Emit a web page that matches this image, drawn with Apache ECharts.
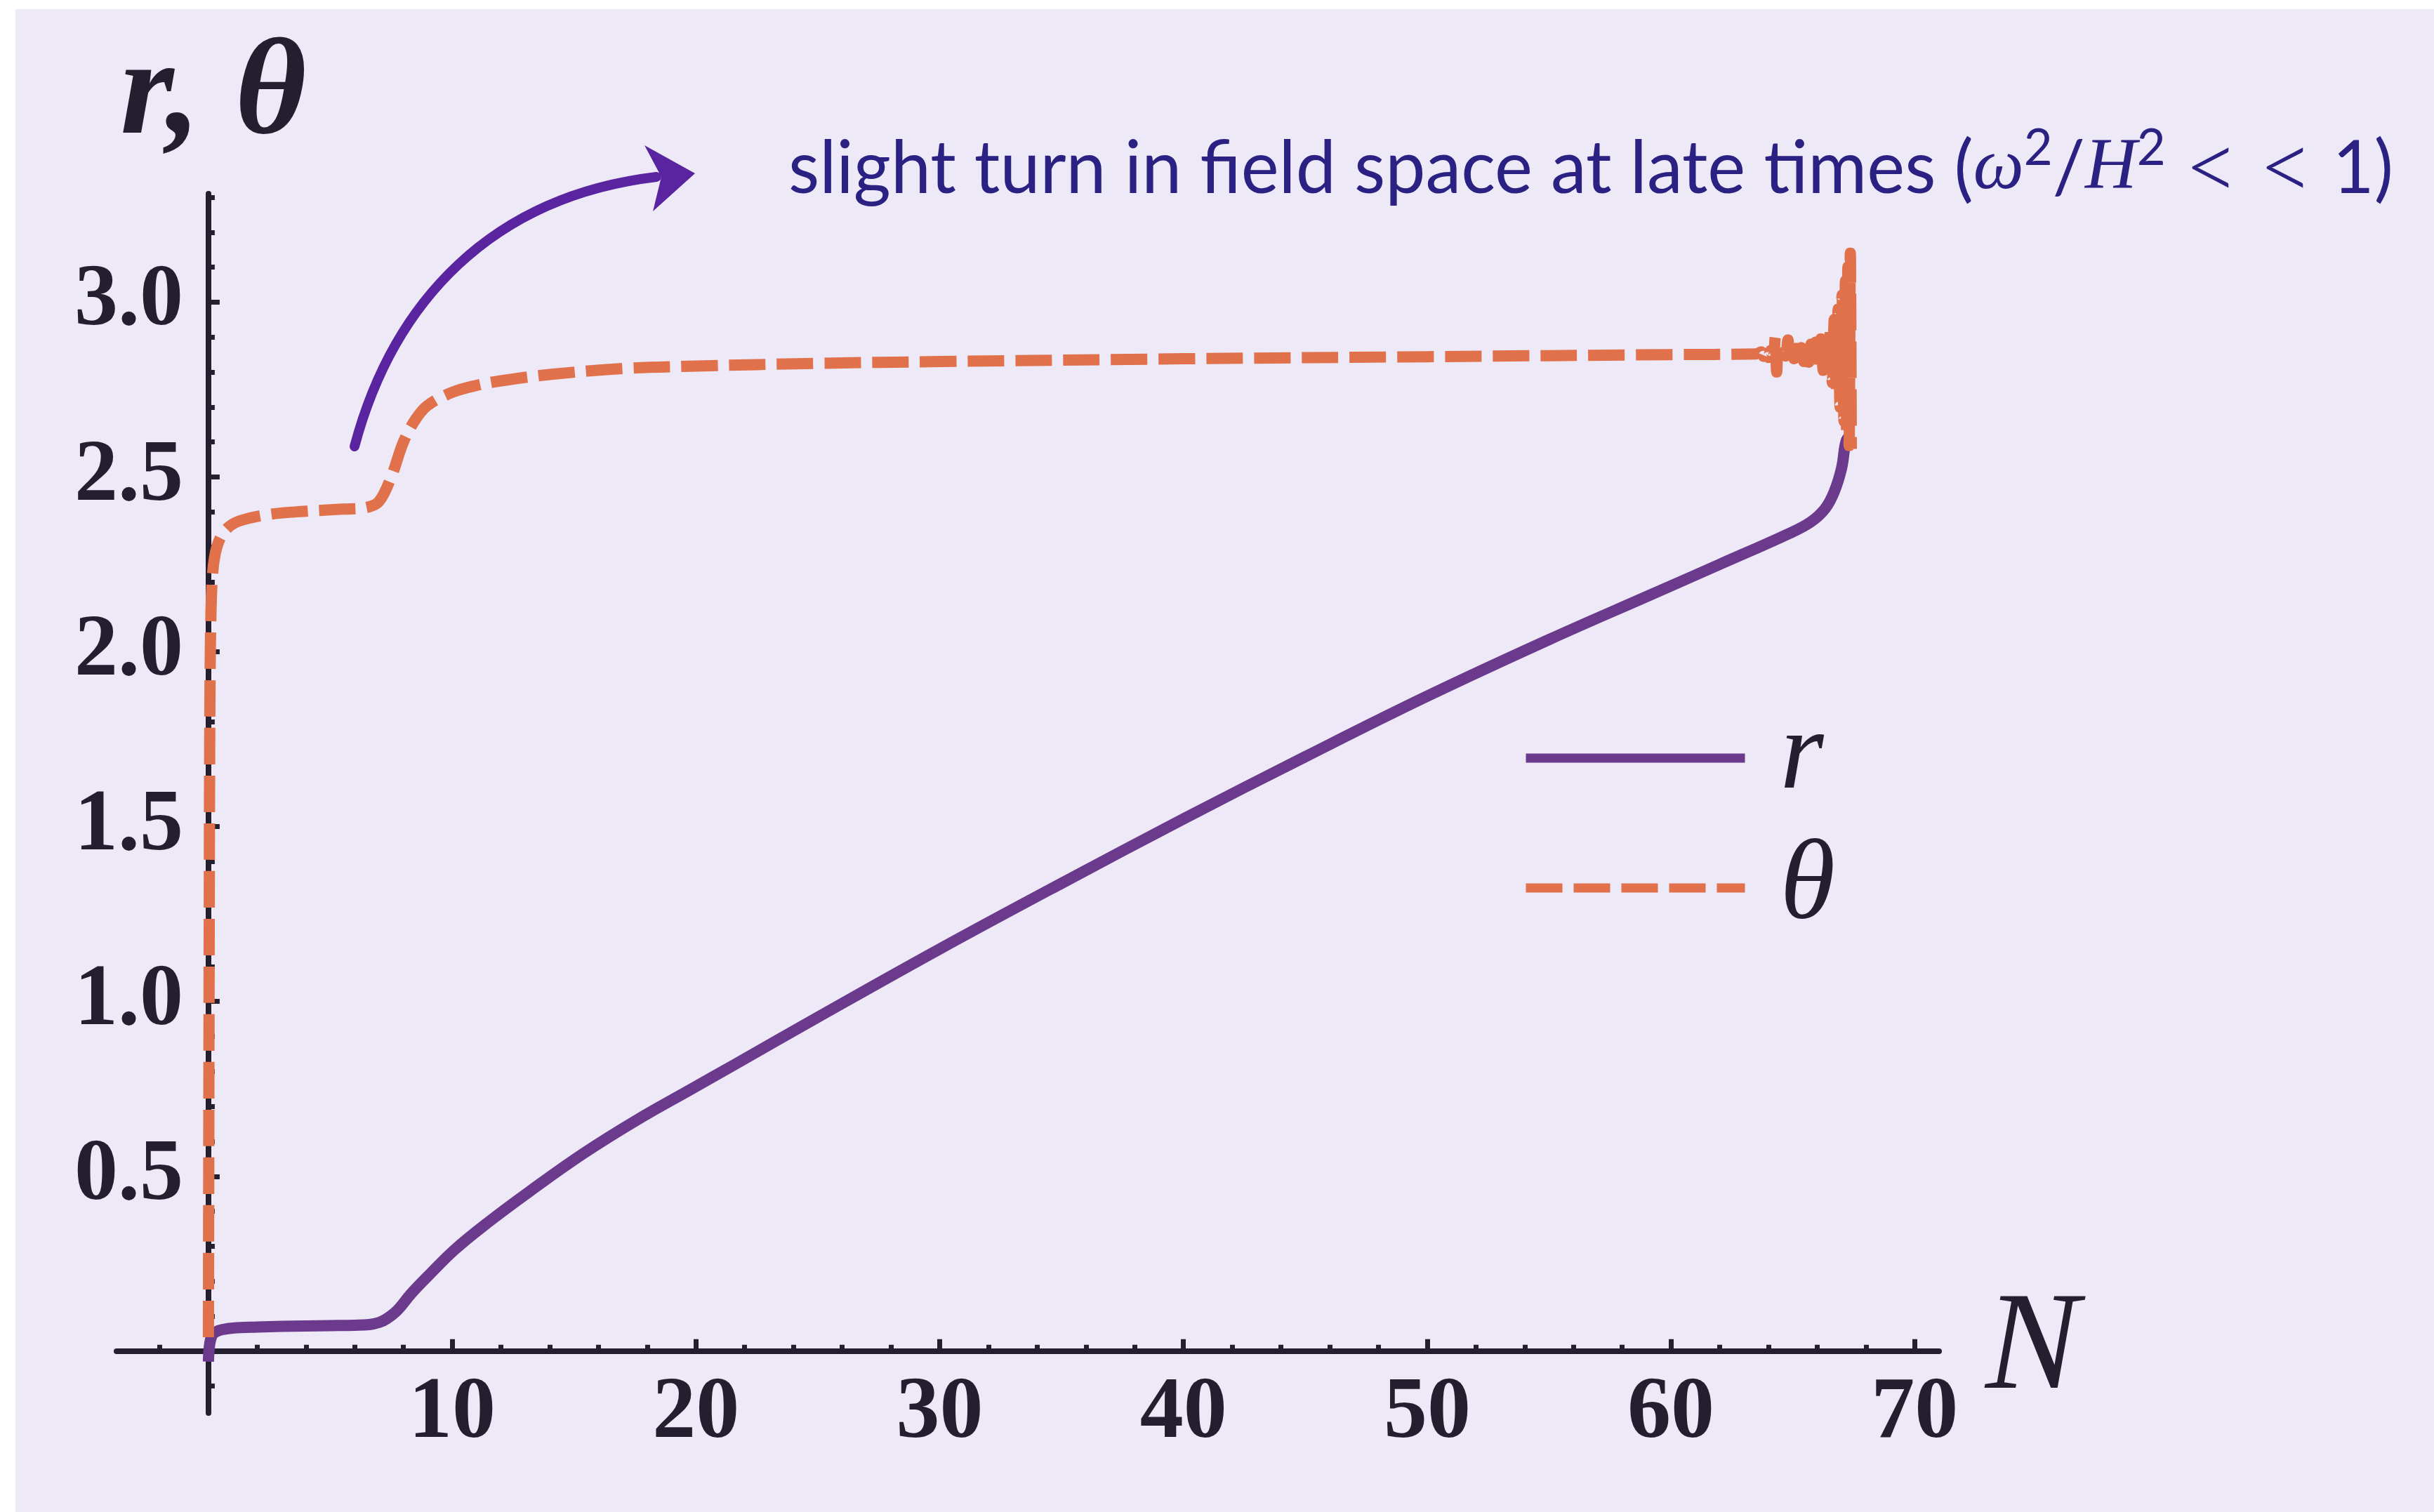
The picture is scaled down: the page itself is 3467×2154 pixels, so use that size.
<!DOCTYPE html>
<html>
<head>
<meta charset="utf-8">
<script src="https://cdn.jsdelivr.net/npm/echarts@6.0.0/dist/echarts.min.js"></script>
<style>
  html, body { margin: 0; padding: 0; background: #ffffff; overflow: hidden; }
  #panel { position: absolute; left: 22px; top: 13px; width: 3445px; height: 2141px; background: #EDE9F7; }
  #chart { position: absolute; left: 0; top: 0; width: 3467px; height: 2154px; }
</style>
</head>
<body>
<div id="panel"></div>
<div id="chart"></div>
<script>
// ---------------- data ----------------
const N_r = [0, 0.05, 0.15, 0.3, 0.6, 1, 2, 3, 4, 5, 6, 6.6, 7, 7.3, 7.75, 8.3, 9, 10.1, 11.45, 13.2, 15.4, 17.6, 19.8, 21.6, 25, 30, 35, 40, 45, 50, 55, 59.1, 62, 64.9, 65.75, 66.33, 66.7, 67.0, 67.2, 67.42];
const r_vals = [-0.03, 0.02, 0.045, 0.055, 0.062, 0.066, 0.069, 0.071, 0.072, 0.073, 0.074, 0.076, 0.082, 0.092, 0.117, 0.163, 0.214, 0.29, 0.367, 0.458, 0.566, 0.662, 0.749, 0.82, 0.955, 1.15, 1.338, 1.522, 1.70, 1.873, 2.035, 2.161, 2.25, 2.34, 2.372, 2.41, 2.458, 2.525, 2.605, 2.62];

const N_theta = [0, 0.01, 0.02, 0.035, 0.05, 0.07, 0.1, 0.15, 0.25, 0.45, 0.8, 1.3, 2.5, 4, 5.5, 6.5, 7, 7.5, 8, 8.5, 9, 10, 11, 12, 14, 17, 20, 25, 30, 40, 50, 60, 63.5,
  63.7, 63.8, 63.9, 64.0, 64.1, 64.2, 64.28, 64.34, 64.4, 64.5, 64.6, 64.7, 64.8, 64.87, 64.95, 65.05, 65.15, 65.25, 65.35, 65.45, 65.55, 65.65, 65.75, 65.85, 65.95, 66.05, 66.15, 66.25, 66.35, 66.45, 66.55, 66.62, 66.7, 66.78, 66.86, 66.94, 67.02, 67.1, 67.16, 67.21, 67.26, 67.31, 67.36, 67.4];
const theta_vals = [0.04, 0.4, 0.8, 1.3, 1.7, 1.95, 2.1, 2.2, 2.27, 2.32, 2.355, 2.375, 2.393, 2.402, 2.408, 2.413, 2.43, 2.5, 2.6, 2.665, 2.705, 2.742, 2.762, 2.775, 2.793, 2.81, 2.817, 2.825, 2.83, 2.838, 2.844, 2.85, 2.852,
  2.858, 2.845, 2.86, 2.842, 2.862, 2.84, 2.90, 2.80, 2.86, 2.848, 2.856, 2.846, 2.892, 2.835, 2.865, 2.838, 2.868, 2.835, 2.87, 2.83, 2.875, 2.828, 2.88, 2.822, 2.886, 2.815, 2.895, 2.805, 2.91, 2.79, 2.93, 2.77, 2.95, 2.74, 2.98, 2.70, 3.02, 2.66, 3.06, 2.62, 3.10, 2.59, 3.14, 2.58];

const xMajorTicks = [10, 20, 30, 40, 50, 60, 70];
const xMinorTicks = [-2, 2, 4, 6, 8, 12, 14, 16, 18, 22, 24, 26, 28, 32, 34, 36, 38, 42, 44, 46, 48, 52, 54, 56, 58, 62, 64, 66, 68];
const yMajorTicks = [0.5, 1.0, 1.5, 2.0, 2.5, 3.0];
const yMinorTicks = [-0.1, 0.1, 0.2, 0.3, 0.4, 0.6, 0.7, 0.8, 0.9, 1.1, 1.2, 1.3, 1.4, 1.6, 1.7, 1.8, 1.9, 2.1, 2.2, 2.3, 2.4, 2.6, 2.7, 2.8, 2.9, 3.1, 3.2, 3.3];

const seriesNames = ['r', 'θ'];
const xName = 'N';
const yName = 'r, θ';
const noteMain = 'slight turn in field space at late times (';

// ---------------- styling ----------------
const AX = '#241F2F';
const R_COLOR = '#6B3A8D';
const T_COLOR = '#E0714B';
const ARROW = '#5A24A0';
const NOTE = '#2B2183';
const SERIF = '"Liberation Serif", "Times New Roman", serif';
const X_MIN = -3.77, X_MAX = 71, Y_MIN = -0.177, Y_MAX = 3.31;
const LW = 16;
const LEGEND_LW = 13;

// measure annotation to fit its width in the reference
const cv = document.createElement('canvas').getContext('2d');
function mw(font, s) { cv.font = font; return cv.measureText(s).width; }
const F_SANS = '104px Lato';
const F_LT = '300 140px Lato';
const F_MATH = 'italic 104px ' + SERIF;
const F_SUP = '72px Lato';
const natural = mw(F_SANS, noteMain) + mw(F_MATH, 'ω') + mw(F_SUP, '2') + mw(F_SANS, '/') + mw(F_MATH, 'H') + mw(F_SUP, '2')
  + mw(F_SANS, ' ') + mw(F_LT, '<') + mw(F_SANS, ' ') + mw(F_LT, '<') + mw(F_SANS, ' 1)');
const noteScale = 2286 / natural;

const chart = echarts.init(document.getElementById('chart'), null, { renderer: 'canvas' });

const axisLabelStyle = { fontFamily: SERIF, fontWeight: 'bold', fontSize: 124, color: AX };

const option = {
  backgroundColor: 'transparent',
  animation: false,
  grid: { left: 166, right: 705, top: 276, bottom: 141, containLabel: false, outerBoundsMode: 'none' },
  xAxis: [
    {
      type: 'value', min: X_MIN, max: X_MAX, position: 'bottom',
      axisLine: { show: true, onZero: true, onZeroAxisIndex: 0, lineStyle: { color: AX, width: 8 } },
      axisTick: { show: true, inside: true, length: 17, customValues: xMajorTicks, lineStyle: { color: AX, width: 7 } },
      axisLabel: { show: true, customValues: xMajorTicks, margin: -60, formatter: v => String(Math.round(v)), ...axisLabelStyle },
      splitLine: { show: false },
      name: xName, nameLocation: 'end', nameGap: 66,
      nameTextStyle: { fontFamily: SERIF, fontStyle: 'italic', fontSize: 200, color: AX, verticalAlign: 'middle' }
    },
    {
      type: 'value', min: X_MIN, max: X_MAX, position: 'bottom',
      axisLine: { show: false, onZero: true, onZeroAxisIndex: 0 },
      axisTick: { show: true, inside: true, length: 9, customValues: xMinorTicks, lineStyle: { color: AX, width: 7 } },
      axisLabel: { show: false },
      splitLine: { show: false }
    }
  ],
  yAxis: [
    {
      type: 'value', min: Y_MIN, max: Y_MAX, position: 'left',
      axisLine: { show: true, onZero: true, onZeroAxisIndex: 0, lineStyle: { color: AX, width: 8 } },
      axisTick: { show: true, inside: true, length: 16, customValues: yMajorTicks, lineStyle: { color: AX, width: 7 } },
      axisLabel: { show: true, customValues: yMajorTicks, margin: -95, formatter: v => v.toFixed(1), ...axisLabelStyle },
      splitLine: { show: false },
      name: yName, nameLocation: 'end', nameGap: 40,
      nameTextStyle: { fontFamily: SERIF, fontStyle: 'italic', fontWeight: 'bold', fontSize: 196, color: AX, padding: [0, 0, 0, 14] }
    },
    {
      type: 'value', min: Y_MIN, max: Y_MAX, position: 'left',
      axisLine: { show: false, onZero: true, onZeroAxisIndex: 0 },
      axisTick: { show: true, inside: true, length: 9, customValues: yMinorTicks, lineStyle: { color: AX, width: 7 } },
      axisLabel: { show: false },
      splitLine: { show: false }
    }
  ],
  legend: {
    data: seriesNames,
    orient: 'vertical', left: 2167, top: 995, padding: 0,
    itemWidth: 312, itemHeight: 2, itemGap: 15,
    selectedMode: false,
    itemStyle: { opacity: 0 },
    lineStyle: { width: LEGEND_LW },
    textStyle: { fontFamily: SERIF, fontStyle: 'italic', fontSize: 160, lineHeight: 170, color: AX, padding: [0, 0, 0, 45] }
  },
  series: [
    {
      type: 'line', name: seriesNames[0], xAxisIndex: 0, yAxisIndex: 0,
      data: N_r.map((n, i) => [n, r_vals[i]]),
      symbol: 'none', showSymbol: false, smooth: 0.4, clip: false, z: 3,
      emphasis: { disabled: true },
      lineStyle: { color: R_COLOR, width: LW, cap: 'butt', join: 'round' },
      itemStyle: { color: R_COLOR }
    },
    {
      type: 'line', name: seriesNames[1], xAxisIndex: 0, yAxisIndex: 0,
      data: N_theta.map((n, i) => [n, theta_vals[i]]),
      symbol: 'none', showSymbol: false, smooth: 0.35, clip: false, z: 4,
      emphasis: { disabled: true },
      lineStyle: { color: T_COLOR, width: LW, type: [52, 16], cap: 'butt', join: 'round' },
      itemStyle: { color: T_COLOR }
    }
  ],
  graphic: [
    {
      type: 'bezierCurve', z: 10,
      shape: { x1: 505, y1: 636, cpx1: 560, cpy1: 430, cpx2: 700, cpy2: 280, x2: 935, y2: 252 },
      style: { stroke: ARROW, lineWidth: 14, fill: null, lineCap: 'round' }
    },
    {
      type: 'polygon', z: 10,
      shape: { points: [[918, 207], [990, 247], [930, 301], [942, 252]] },
      style: { fill: ARROW }
    },
    {
      type: 'text', z: 10, x: 1123, y: 241, scaleX: noteScale, scaleY: 1,
      style: {
        text: '{a|' + noteMain + '}{m|ω}{s|2}{a|/}{m|H}{s|2}{a| }{lt|<}{a| }{lt|<}{a| 1)}',
        verticalAlign: 'middle', align: 'left', fill: NOTE,
        rich: {
          a: { fontFamily: 'Lato', fontSize: 104, lineHeight: 130, color: NOTE, verticalAlign: 'middle' },
          lt: { fontFamily: 'Lato', fontWeight: 300, fontSize: 140, lineHeight: 130, color: NOTE, verticalAlign: 'middle' },
          m: { fontFamily: SERIF, fontStyle: 'italic', fontSize: 104, lineHeight: 130, color: NOTE, verticalAlign: 'middle' },
          s: { fontFamily: 'Lato', fontSize: 72, lineHeight: 60, color: NOTE, verticalAlign: 'top' }
        }
      }
    }
  ]
};
chart.setOption(option);
</script>
</body>
</html>
